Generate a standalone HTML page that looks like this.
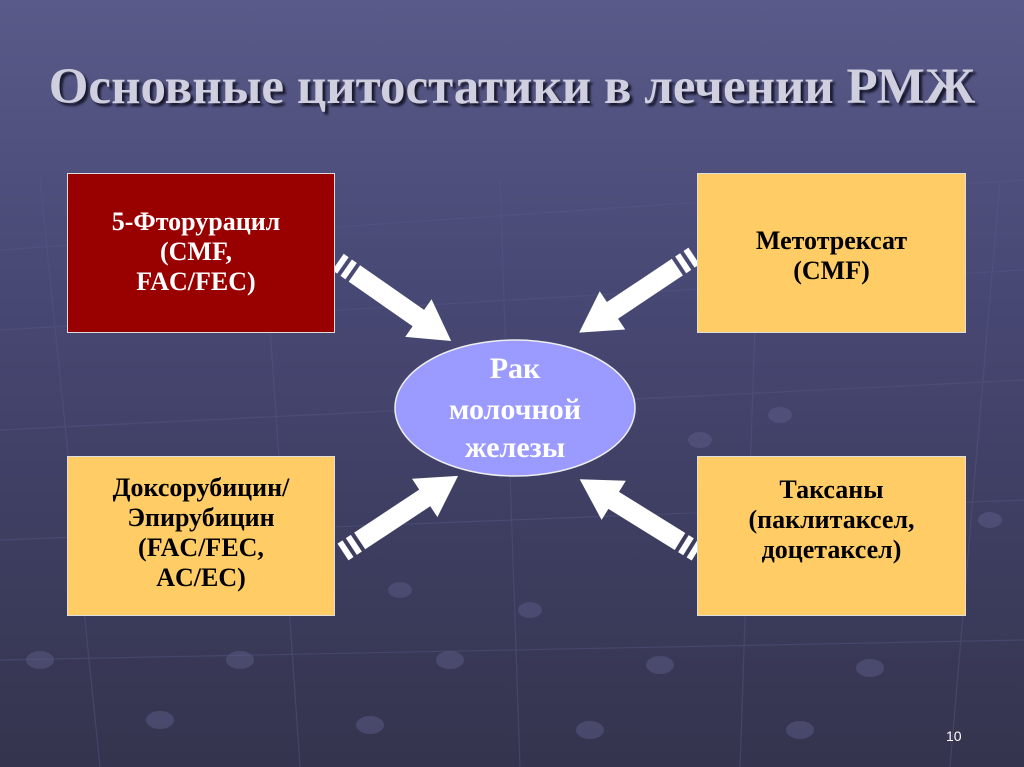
<!DOCTYPE html>
<html><head><meta charset="utf-8"><style>
body{margin:0;width:1024px;height:767px;overflow:hidden;background:linear-gradient(180deg,#5a5a8a 0%,#474773 40%,#34344e 100%);font-family:"Liberation Serif",serif;position:relative}
.t{position:absolute;left:0;width:1024px;top:58px;text-align:center;font-size:51px;font-weight:bold;color:#cfcfe0;text-shadow:3px 3px 2px #1a1a30;font-family:"Liberation Serif",serif}
.b{position:absolute;box-sizing:border-box;border:1px solid #ddd;font-weight:bold;font-size:26px;line-height:30px;text-align:center;font-family:"Liberation Serif",serif}
.n{position:absolute;left:946px;top:728px;color:#fff;font-family:"Liberation Sans",sans-serif;font-size:14px}
</style></head><body>
<svg width="1024" height="767" style="position:absolute;left:0;top:0">
<g stroke="#5a5a8a" stroke-width="1.2" opacity="0.4" fill="none">
<path d="M0 250 L1024 180 M0 330 L1024 270 M0 430 L1024 380 M0 540 L1024 500 M0 660 L1024 640"/>
<path d="M100 767 L40 180 M300 767 L260 180 M520 767 L500 180 M740 767 L760 180 M950 767 L1000 180"/>
</g>
<g fill="#5c5c88" opacity="0.5">
<ellipse cx="40" cy="660" rx="14" ry="9"/><ellipse cx="240" cy="660" rx="14" ry="9"/><ellipse cx="450" cy="660" rx="14" ry="9"/><ellipse cx="660" cy="665" rx="14" ry="9"/><ellipse cx="870" cy="668" rx="14" ry="9"/>
<ellipse cx="160" cy="720" rx="14" ry="9"/><ellipse cx="370" cy="725" rx="14" ry="9"/><ellipse cx="590" cy="730" rx="14" ry="9"/><ellipse cx="800" cy="730" rx="14" ry="9"/>
<ellipse cx="700" cy="440" rx="12" ry="8"/><ellipse cx="780" cy="415" rx="12" ry="8"/><ellipse cx="990" cy="520" rx="12" ry="8"/><ellipse cx="400" cy="590" rx="12" ry="8"/><ellipse cx="530" cy="610" rx="12" ry="8"/>
</g>
<defs><g id="ar"><rect x="0" y="-10" width="6" height="20" fill="#fff"/><rect x="10" y="-10" width="6" height="20" fill="#fff"/><polygon points="20,-10 98,-10 98,-23 138,0 98,23 98,10 20,10" fill="#fff"/></g></defs>
<use href="#ar" transform="translate(338,262) rotate(34.9)"/>
<use href="#ar" transform="translate(694,256) rotate(146.3)"/>
<use href="#ar" transform="translate(343,552) rotate(-33.5)"/>
<use href="#ar" transform="translate(697,552) rotate(-148.2)"/>
<ellipse cx="515" cy="408" rx="120" ry="68" fill="#9a9aff" stroke="#eee" stroke-width="1.5"/>
<g font-family="Liberation Serif, serif" font-weight="bold" font-size="30" fill="#fff" text-anchor="middle">
<text x="515" y="378">Рак</text>
<text x="515" y="419">молочной</text>
<text x="515" y="457">железы</text>
</g>
</svg>
<div class="t">Основные цитостатики в лечении РМЖ</div>
<div class="b" style="left:67px;top:173px;width:268px;height:160px;background:#990000;color:#fff;padding-top:33px;padding-right:10px">5-Фторурацил<br>(CMF,<br>FAC/FEC)</div>
<div class="b" style="left:697px;top:173px;width:269px;height:160px;background:#ffcc66;color:#000;padding-top:52px">Метотрексат<br>(CMF)</div>
<div class="b" style="left:67px;top:456px;width:268px;height:160px;background:#ffcc66;color:#000;padding-top:16px">Доксорубицин/<br>Эпирубицин<br>(FAC/FEC,<br>AC/EC)</div>
<div class="b" style="left:697px;top:456px;width:269px;height:160px;background:#ffcc66;color:#000;padding-top:18px">Таксаны<br>(паклитаксел,<br>доцетаксел)</div>
<div class="n">10</div>
</body></html>
